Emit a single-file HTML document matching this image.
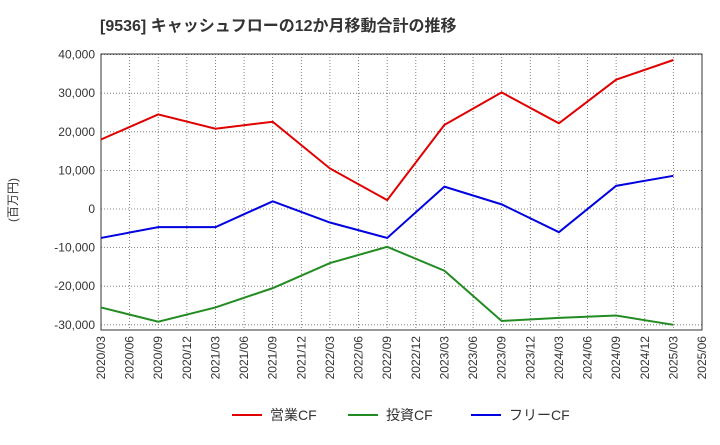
<!DOCTYPE html>
<html><head><meta charset="utf-8"><style>
body{margin:0;background:#fff;font-family:"Liberation Sans","Noto Sans CJK JP",sans-serif;}
</style></head><body>
<svg width="720" height="440" xmlns="http://www.w3.org/2000/svg" id="svg">
<text x="100" y="31" font-size="16" font-weight="bold" fill="#333" font-family="Liberation Sans, Noto Sans CJK JP, sans-serif">[9536]  キャッシュフローの12か月移動合計の推移</text>
<text x="17" y="200" font-size="12" fill="#333" transform="rotate(-90 17 200)" text-anchor="middle" font-family="Liberation Sans, Noto Sans CJK JP, sans-serif">(百万円)</text>
<g id="grid"></g><g id="axes"></g><g id="series"></g><g id="legend"></g>
</svg>
<script>
const xLabels=["2020/03","2020/06","2020/09","2020/12","2021/03","2021/06","2021/09","2021/12","2022/03","2022/06","2022/09","2022/12","2023/03","2023/06","2023/09","2023/12","2024/03","2024/06","2024/09","2024/12","2025/03","2025/06"];
const yTicks=[40000,30000,20000,10000,0,-10000,-20000,-30000];
const pointIdx=[0,2,4,6,8,10,12,14,16,18,20];
const opCF=[18000,24500,20800,22600,10500,2300,21800,30200,22200,33500,38600];
const invCF=[-25500,-29200,-25500,-20500,-14000,-9800,-16000,-29000,-28200,-27600,-30000];
const freeCF=[-7500,-4700,-4700,2000,-3500,-7500,5800,1200,-6000,6000,8600];
const L=101,R=702,T=54,B=330;
const x=i=>L+i*(R-L)/(xLabels.length-1);
const y=v=>209-v*38.6/10000;
const NS="http://www.w3.org/2000/svg";
function mk(tag,attrs,parent){const e=document.createElementNS(NS,tag);for(const k in attrs)e.setAttribute(k,attrs[k]);document.getElementById(parent).appendChild(e);return e;}
let r=mk('rect',{x:L,y:T,width:R-L,height:B-T,fill:'none',stroke:'#333','stroke-width':1},'axes');


xLabels.forEach((lab,i)=>{
 let g=mk('line',{x1:x(i),x2:x(i),y1:T,y2:B,stroke:'#666','stroke-width':0.8,'stroke-dasharray':'1,2'},'grid');
 
 
 let t=mk('text',{x:x(i)+4,y:B+6,'font-size':12,fill:'#333','text-anchor':'end',transform:`rotate(-90 ${x(i)+4} ${B+6})`},'axes');
 t.textContent=lab;
 
 
});
yTicks.forEach(v=>{
 let g=mk('line',{x1:L,x2:R,y1:y(v),y2:y(v),stroke:'#666','stroke-width':0.8,'stroke-dasharray':'1,2'},'grid');
 
 
 let t=mk('text',{x:L-6,y:y(v)+4,'font-size':12,fill:'#333','text-anchor':'end'},'axes');
 t.textContent=v.toLocaleString('en-US');
 
 
});
const series=[["営業CF",opCF,"#e00000","operating-cf-line"],["投資CF",invCF,"#228b22","investing-cf-line"],["フリーCF",freeCF,"#0000e0","free-cf-line"]];
series.forEach(([n,d,c,nm],k)=>{
 let p=mk('polyline',{points:d.map((v,i)=>x(pointIdx[i])+','+y(v)).join(' '),fill:'none',stroke:c,'stroke-width':2},'series');
 
 
 const lx=[232,348,471][k];
 let l=mk('line',{x1:lx,x2:lx+30,y1:415,y2:415,stroke:c,'stroke-width':2},'legend');
 
 
 let t=mk('text',{x:lx+38,y:420,'font-size':14,fill:'#333'},'legend');
 t.textContent=n;
 
 
});
</script>
</body></html>
